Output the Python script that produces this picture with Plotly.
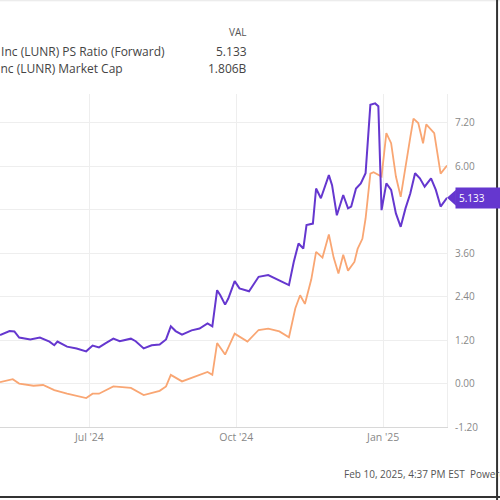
import plotly.graph_objects as go

# PS Ratio (Forward), right axis
ps_dates = [
    "2024-05-06", "2024-05-12", "2024-05-15", "2024-05-18", "2024-05-25", "2024-05-31",
    "2024-06-06", "2024-06-09", "2024-06-11", "2024-06-17", "2024-06-23", "2024-06-29",
    "2024-07-03", "2024-07-07", "2024-07-11", "2024-07-16", "2024-07-20", "2024-07-27",
    "2024-07-30", "2024-08-04", "2024-08-09", "2024-08-14", "2024-08-18", "2024-08-21",
    "2024-08-24", "2024-08-28", "2024-09-03", "2024-09-08", "2024-09-13", "2024-09-16",
    "2024-09-19", "2024-09-21", "2024-09-24", "2024-09-26", "2024-09-30", "2024-10-03",
    "2024-10-09", "2024-10-15", "2024-10-21", "2024-10-28", "2024-11-03", "2024-11-06",
    "2024-11-09", "2024-11-12", "2024-11-14", "2024-11-18", "2024-11-20", "2024-11-23",
    "2024-11-28", "2024-11-30", "2024-12-03", "2024-12-07", "2024-12-10", "2024-12-12",
    "2024-12-15", "2024-12-18", "2024-12-21", "2024-12-24", "2024-12-27", "2024-12-29",
    "2024-12-31", "2025-01-03", "2025-01-06", "2025-01-09", "2025-01-12", "2025-01-15",
    "2025-01-18", "2025-01-21", "2025-01-24", "2025-01-27", "2025-01-31", "2025-02-03",
    "2025-02-06", "2025-02-10",
]
ps_ratio = [
    1.34, 1.45, 1.44, 1.27, 1.22, 1.27,
    1.16, 1.06, 1.16, 1.02, 0.97, 0.89,
    1.05, 1.00, 1.11, 1.24, 1.17, 1.24,
    1.17, 0.97, 1.06, 1.08, 1.22, 1.58,
    1.45, 1.35, 1.47, 1.52, 1.66, 1.58,
    2.58, 2.44, 2.18, 2.35, 2.83, 2.63,
    2.55, 2.95, 3.00, 2.86, 2.72, 3.36,
    3.87, 3.73, 4.38, 4.42, 5.39, 5.12,
    5.76, 5.48, 4.65, 5.21, 4.84, 4.89,
    5.39, 5.53, 5.81, 7.70, 7.74, 7.66,
    4.79, 5.53, 5.35, 4.70, 4.33, 4.84,
    5.25, 5.81, 5.67, 5.44, 5.67, 5.35,
    4.89, 5.133,
]

# Market Cap (billions), left axis (cropped out of view)
mc_dates = [
    "2024-05-06", "2024-05-14", "2024-05-18", "2024-05-27", "2024-06-02", "2024-06-09",
    "2024-06-17", "2024-06-29", "2024-07-03", "2024-07-07", "2024-07-16", "2024-07-27",
    "2024-08-04", "2024-08-14", "2024-08-18", "2024-08-21", "2024-08-28", "2024-09-03",
    "2024-09-08", "2024-09-13", "2024-09-16", "2024-09-19", "2024-09-24", "2024-09-30",
    "2024-10-08", "2024-10-15", "2024-10-21", "2024-10-28", "2024-11-03", "2024-11-07",
    "2024-11-10", "2024-11-13", "2024-11-17", "2024-11-20", "2024-11-24", "2024-11-28",
    "2024-12-01", "2024-12-04", "2024-12-07", "2024-12-10", "2024-12-14", "2024-12-16",
    "2024-12-19", "2024-12-21", "2024-12-24", "2024-12-26", "2024-12-31", "2025-01-03",
    "2025-01-06", "2025-01-09", "2025-01-12", "2025-01-15", "2025-01-18", "2025-01-20",
    "2025-01-23", "2025-01-26", "2025-01-28", "2025-02-02", "2025-02-04", "2025-02-06",
    "2025-02-10",
]
market_cap = [
    0.31, 0.33, 0.30, 0.285, 0.29, 0.255,
    0.23, 0.20, 0.23, 0.23, 0.28, 0.27,
    0.22, 0.25, 0.28, 0.36, 0.315, 0.34,
    0.36, 0.38, 0.36, 0.58, 0.50, 0.645,
    0.59, 0.67, 0.68, 0.66, 0.62, 0.82,
    0.91, 0.85, 1.02, 1.21, 1.17, 1.33,
    1.17, 1.06, 1.19, 1.08, 1.14, 1.23,
    1.30, 1.44, 1.75, 1.76, 1.73, 2.03,
    1.96, 1.73, 1.59, 1.78, 2.00, 2.13,
    2.10, 1.96, 2.09, 2.03, 1.89, 1.75,
    1.806,
]

x_ticks = ["2024-07-01", "2024-10-01", "2025-01-01"]
x_tick_labels = ["Jul '24", "Oct '24", "Jan '25"]
y_ticks = [-1.2, 0.0, 1.2, 2.4, 3.6, 4.8, 6.0, 7.2]
# 4.80 sits under the last-value box, so its label is left blank
y_tick_labels = ["-1.20", "0.00", "1.20", "2.40", "3.60", "", "6.00", "7.20"]

purple = "#6537cf"
orange = "#f9a673"
font = "Open Sans, Liberation Sans, sans-serif"

fig = go.Figure()
fig.add_trace(go.Scatter(x=mc_dates, y=market_cap, mode="lines",
                         line=dict(color=orange, width=1.8), yaxis="y"))
fig.add_trace(go.Scatter(x=ps_dates, y=ps_ratio, mode="lines",
                         line=dict(color=purple, width=2), yaxis="y2"))

fig.update_layout(
    width=500, height=500,
    margin=dict(l=0, r=53, t=94, b=73),
    paper_bgcolor="white", plot_bgcolor="white",
    showlegend=False,
    font=dict(family=font, size=10, color="#888888"),
    xaxis=dict(range=["2024-05-06", "2025-02-10"], tickvals=x_ticks, ticktext=x_tick_labels,
               showgrid=True, gridcolor="#eeeeee", gridwidth=1,
               showline=True, linecolor="#d8d8d8", linewidth=1,
               ticks="", tickfont=dict(size=10.5, color="#888888")),
    yaxis=dict(range=[0, 2.3], visible=False, showgrid=False),
    yaxis2=dict(range=[-1.2, 8.0], side="right", overlaying="y", tickvals=y_ticks,
                ticktext=y_tick_labels, showgrid=True, gridcolor="#eeeeee", gridwidth=1,
                showline=True, linecolor="#eeeeee", zeroline=False, ticks="",
                ticklabelstandoff=5, tickfont=dict(size=10, color="#888888")),
)

# last value marker on the right axis
last_ps = ps_ratio[-1]
fig.add_annotation(x=1.0, xref="paper", y=last_ps, yref="y2", text=f"{last_ps:.3f}",
                   showarrow=False, xanchor="left", xshift=8, bgcolor=purple,
                   font=dict(color="white", size=10), borderpad=3, width=52, align="left")
fig.add_shape(type="path", xref="paper", yref="y2",
              path=f"M 1.0 {last_ps} L 1.02 {last_ps + 0.22} L 1.02 {last_ps - 0.22} Z",
              fillcolor=purple, line=dict(width=0))

# legend table above the plot
fig.add_annotation(x=249 / 447, y=1.213, xref="paper", yref="paper", text="VAL",
                   showarrow=False, xanchor="right", font=dict(size=10, color="#555555"))
fig.add_annotation(x=167 / 447, y=1.16, xref="paper", yref="paper",
                   text="Intuitive Machines Inc (LUNR) PS Ratio (Forward)",
                   showarrow=False, xanchor="right", font=dict(size=12, color="#444444"))
fig.add_annotation(x=249 / 447, y=1.16, xref="paper", yref="paper", text=f"{last_ps:.3f}",
                   showarrow=False, xanchor="right", font=dict(size=12, color="#444444"))
fig.add_annotation(x=125 / 447, y=1.108, xref="paper", yref="paper",
                   text="Intuitive Machines Inc (LUNR) Market Cap",
                   showarrow=False, xanchor="right", font=dict(size=12, color="#444444"))
fig.add_annotation(x=249 / 447, y=1.108, xref="paper", yref="paper",
                   text=f"{market_cap[-1]:.3f}B",
                   showarrow=False, xanchor="right", font=dict(size=12, color="#444444"))

# footer
fig.add_annotation(x=342 / 447, y=-0.168, xref="paper", yref="paper",
                   text="Feb 10, 2025, 4:37 PM EST  Powered by YCharts",
                   showarrow=False, xanchor="left", font=dict(size=10, color="#555555"))

# frame lines of the screenshot
fig.add_shape(type="line", xref="paper", yref="paper", x0=-0.01, x1=1.2, y0=1.28, y1=1.28,
              line=dict(color="#e6e6e6", width=1))
fig.add_shape(type="line", xref="paper", yref="paper", x0=1.112, x1=1.112, y0=-0.3, y1=1.3,
              line=dict(color="#333333", width=2))
fig.add_shape(type="line", xref="paper", yref="paper", x0=-0.01, x1=1.2, y0=-0.21, y1=-0.21,
              line=dict(color="#333333", width=2))

fig.write_html("out.html", config={"displayModeBar": False},
               post_script="document.body.style.margin='0';")
